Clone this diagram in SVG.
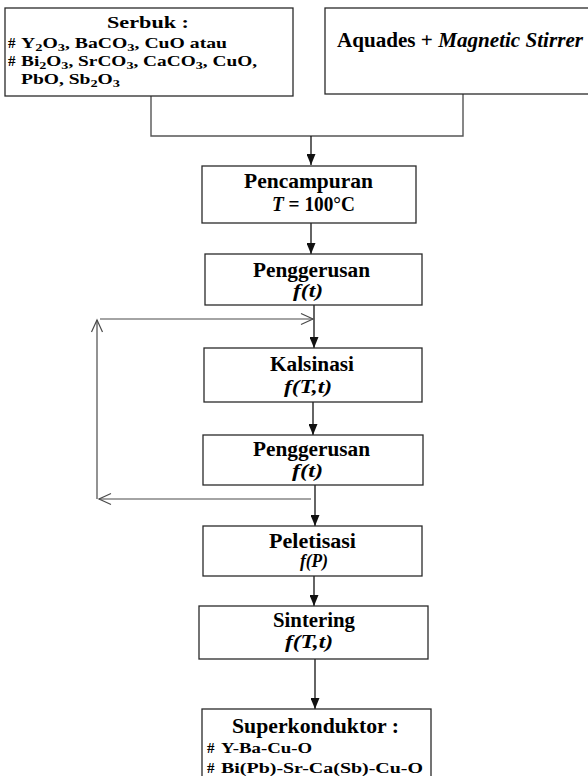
<svg xmlns="http://www.w3.org/2000/svg" width="588" height="776" viewBox="0 0 588 776">
  <style>
    .box { fill: #ffffff; stroke: #2a2a2a; stroke-width: 1.3; }
    .t { font-family: "Liberation Serif", "Times New Roman", serif; font-weight: bold; fill: #000; }
    .h { font-size: 20px; text-anchor: middle; }
    .s { font-size: 18px; text-anchor: middle; font-style: italic; }
    .li { font-size: 15px; }
    .sub { font-size: 11px; }
    .flow { fill: none; stroke: #111; stroke-width: 1.3; }
    .feed { fill: none; stroke: #4a4a4a; stroke-width: 1.2; }
    .join { fill: none; stroke: #555; stroke-width: 1.4; }
  </style>
  <defs>
    <marker id="solid" viewBox="0 0 9 11" markerWidth="9" markerHeight="11" refX="4.5" refY="11" markerUnits="userSpaceOnUse" orient="0">
      <path d="M0,0 L9,0 L4.5,11 z" fill="#111"/>
    </marker>
    <marker id="open" viewBox="0 0 12 12" markerWidth="12" markerHeight="12" refX="12" refY="6" markerUnits="userSpaceOnUse" orient="auto" overflow="visible">
      <path d="M0,0.5 L12,6 L0,11.5" fill="none" stroke="#4a4a4a" stroke-width="1.2"/>
    </marker>
  </defs>

  <!-- connectors -->
  <g id="connectors">
    <path class="join" d="M151,96 V136 H463 V94"/>
    <path class="flow" d="M311,136 V165" marker-end="url(#solid)"/>
    <path class="flow" d="M311,223 V254" marker-end="url(#solid)"/>
    <path class="flow" d="M314,305 V348" marker-end="url(#solid)"/>
    <path class="flow" d="M313,402 V435" marker-end="url(#solid)"/>
    <path class="flow" d="M315,485 V526" marker-end="url(#solid)"/>
    <path class="flow" d="M314,576 V606" marker-end="url(#solid)"/>
    <path class="flow" d="M315,659 V709" marker-end="url(#solid)"/>
    <!-- repeat loop: back from second grinding to calcination -->
    <path class="feed" d="M311,499 H99" marker-end="url(#open)"/>
    <path class="feed" d="M97,499 V320" marker-end="url(#open)"/>
    <path class="feed" d="M100,319 H313" marker-end="url(#open)"/>
  </g>

  <g id="serbuk">
    <rect class="box" x="5" y="8" width="288" height="88"/>
    <text class="t" x="148" y="28" font-size="17" text-anchor="middle" textLength="82" lengthAdjust="spacingAndGlyphs">Serbuk :</text>
    <text class="t li" x="8" y="48">#</text>
    <text class="t li" x="21" y="48" textLength="206" lengthAdjust="spacingAndGlyphs">Y<tspan class="sub" dy="3">2</tspan><tspan dy="-3">O</tspan><tspan class="sub" dy="3">3</tspan><tspan dy="-3">, BaCO</tspan><tspan class="sub" dy="3">3</tspan><tspan dy="-3">, CuO atau</tspan></text>
    <text class="t li" x="8" y="66">#</text>
    <text class="t li" x="21" y="66" textLength="236" lengthAdjust="spacingAndGlyphs">Bi<tspan class="sub" dy="3">2</tspan><tspan dy="-3">O</tspan><tspan class="sub" dy="3">3</tspan><tspan dy="-3">, SrCO</tspan><tspan class="sub" dy="3">3</tspan><tspan dy="-3">, CaCO</tspan><tspan class="sub" dy="3">3</tspan><tspan dy="-3">, CuO,</tspan></text>
    <text class="t li" x="21" y="84" textLength="99" lengthAdjust="spacingAndGlyphs">PbO, Sb<tspan class="sub" dy="3">2</tspan><tspan dy="-3">O</tspan><tspan class="sub" dy="3">3</tspan></text>
  </g>

  <g id="aquades">
    <rect class="box" x="325" y="8" width="270" height="86"/>
    <text class="t" x="337" y="47" font-size="20" textLength="246" lengthAdjust="spacingAndGlyphs">Aquades + <tspan font-style="italic">Magnetic Stirrer</tspan></text>
  </g>

  <g id="pencampuran">
    <rect class="box" x="202" y="166" width="214" height="57"/>
    <text class="t h" x="308.5" y="188" textLength="129" lengthAdjust="spacingAndGlyphs">Pencampuran</text>
    <text class="t h" x="313.5" y="211" textLength="83" lengthAdjust="spacingAndGlyphs"><tspan font-style="italic">T</tspan> = 100°C</text>
  </g>

  <g id="penggerusan-1">
    <rect class="box" x="205" y="254" width="217" height="51"/>
    <text class="t h" x="311.5" y="277" textLength="117" lengthAdjust="spacingAndGlyphs">Penggerusan</text>
    <text class="t s" x="308" y="297" textLength="30" lengthAdjust="spacingAndGlyphs">f(t)</text>
  </g>

  <g id="kalsinasi">
    <rect class="box" x="204" y="348" width="218" height="54"/>
    <text class="t h" x="312" y="371" textLength="84" lengthAdjust="spacingAndGlyphs">Kalsinasi</text>
    <text class="t s" x="308" y="393" textLength="48" lengthAdjust="spacingAndGlyphs">f(T,t)</text>
  </g>

  <g id="penggerusan-2">
    <rect class="box" x="203" y="435" width="220" height="50"/>
    <text class="t h" x="311.5" y="456" textLength="117" lengthAdjust="spacingAndGlyphs">Penggerusan</text>
    <text class="t s" x="307.5" y="477" textLength="31" lengthAdjust="spacingAndGlyphs">f(t)</text>
  </g>

  <g id="peletisasi">
    <rect class="box" x="203" y="526" width="219" height="50"/>
    <text class="t h" x="312.5" y="548" textLength="87" lengthAdjust="spacingAndGlyphs">Peletisasi</text>
    <text class="t s" x="314" y="567" textLength="28" lengthAdjust="spacingAndGlyphs">f(P)</text>
  </g>

  <g id="sintering">
    <rect class="box" x="199" y="606" width="229" height="53"/>
    <text class="t h" x="314" y="627" textLength="82" lengthAdjust="spacingAndGlyphs">Sintering</text>
    <text class="t s" x="309" y="648" textLength="48" lengthAdjust="spacingAndGlyphs">f(T,t)</text>
  </g>

  <g id="superkonduktor">
    <rect class="box" x="202" y="709" width="229" height="80"/>
    <text class="t" x="232" y="733" font-size="20" textLength="167" lengthAdjust="spacingAndGlyphs">Superkonduktor :</text>
    <text class="t li" x="207" y="753">#</text>
    <text class="t li" x="221" y="753" textLength="91" lengthAdjust="spacingAndGlyphs">Y-Ba-Cu-O</text>
    <text class="t li" x="207" y="773">#</text>
    <text class="t li" x="221" y="773" textLength="202" lengthAdjust="spacingAndGlyphs">Bi(Pb)-Sr-Ca(Sb)-Cu-O</text>
  </g>
</svg>
